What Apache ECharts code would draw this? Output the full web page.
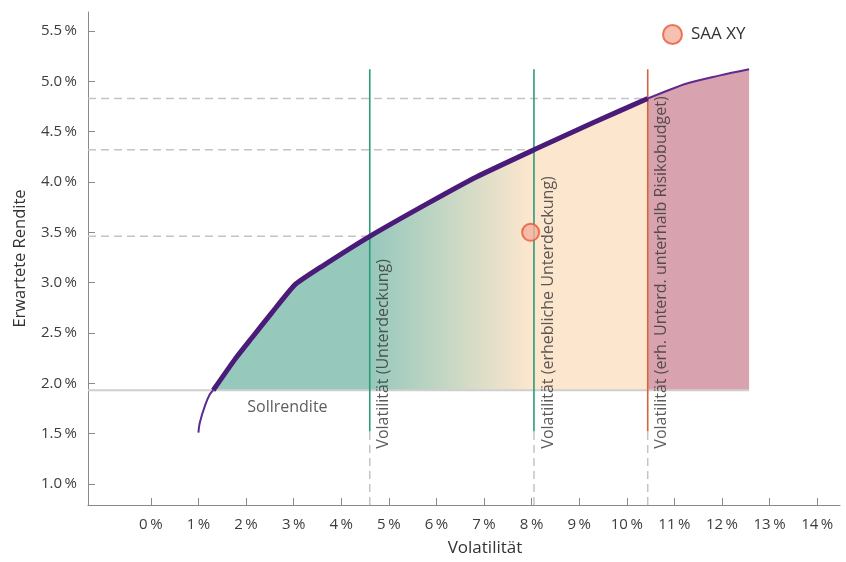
<!DOCTYPE html>
<html>
<head>
<meta charset="utf-8">
<script src="https://cdn.jsdelivr.net/npm/echarts@6/dist/echarts.min.js"></script>
<style>
html,body{margin:0;padding:0;background:#fff;}
#chart{width:846px;height:562px;}
</style>
</head>
<body>
<div id="chart"></div>
<script>
// ---- data ----
const xTicks = [0,1,2,3,4,5,6,7,8,9,10,11,12,13,14];
const yTicks = [1.0,1.5,2.0,2.5,3.0,3.5,4.0,4.5,5.0,5.5];
const sollRendite = 1.93;
const frontierLow = [[1.00,1.51],[1.03,1.61],[1.14,1.78],[1.24,1.89],[1.31,1.93]];
const frontierMain = [[1.31,1.93],[1.77,2.24],[2.12,2.45],[2.54,2.70],[3.03,2.98],[3.59,3.16],[4.60,3.46],[5.79,3.78],[6.84,4.05],[8.05,4.32],[9.29,4.59],[10.44,4.83]];
const frontierHigh = [[10.44,4.83],[11.26,4.98],[11.96,5.06],[12.57,5.12]];
const saaPoint = [[7.98,3.50]];
const volLines = [4.60, 8.05, 10.44];
const volReturns = [3.46, 4.32, 4.83];
const volLabels = ['Volatilität (Unterdeckung)','Volatilität (erhebliche Unterdeckung)','Volatilität (erh. Unterd. unterhalb Risikobudget)'];
const volLineTop = 5.12;
const volLineBottom = 1.52;
const volLabelBase = 1.35;
const sollLabelPos = [[2.87,1.76]];

// ---- style ----
const xMin = -1.32, xMax = 14.48, yMin = 0.79, yMax = 5.69;
const FONT = '"Open Sans", "Noto Sans", sans-serif';
const lineColors = ['#2b9a7b','#2b9a7b','#d2653b'];
const teal = '#96c8bc', peach = '#fde6ce', pink = '#d8a3af';
const TXT = '#333333';

const chart = echarts.init(document.getElementById('chart'));

const series = [];
// fill areas
series.push({
  type:'line', data: frontierMain, symbol:'none', silent:true, z:1, smooth:0.15,
  lineStyle:{width:0, opacity:0},
  areaStyle:{origin: sollRendite, opacity:1,
    color: new echarts.graphic.LinearGradient(0,0,1,0,[
      {offset:0,color:teal},{offset:0.36,color:teal},
      {offset:0.55,color:'#c9d8c4'},
      {offset:0.73,color:peach},{offset:1,color:peach}])}
});
series.push({
  type:'line', data: frontierHigh, symbol:'none', silent:true, z:1, smooth:0.3,
  lineStyle:{width:0, opacity:0},
  areaStyle:{origin: sollRendite, opacity:1, color: pink}
});
// Sollrendite line
series.push({
  type:'line', data:[[xMin,sollRendite],[frontierHigh[frontierHigh.length-1][0],sollRendite]],
  symbol:'none', silent:true, z:2, lineStyle:{color:'#cfcfcf', width:2}
});
// vertical & horizontal reference lines
volLines.forEach((v,i)=>{
  series.push({type:'line', data:[[v,yMin],[v,volLineBottom]], symbol:'none', silent:true, z:2,
    lineStyle:{color:'#c4c4c4', width:1.5, type:[8,5]}});
  series.push({type:'line', data:[[v,volLineBottom],[v,volLineTop]], symbol:'none', silent:true, z:3,
    lineStyle:{color:lineColors[i], width:1.6}});
  series.push({type:'line', data:[[xMin,volReturns[i]],[v,volReturns[i]]], symbol:'none', silent:true, z:2,
    lineStyle:{color:'#c4c4c4', width:1.5, type:[8,5]}});
  series.push({type:'scatter', data:[[v,volLabelBase]], symbolSize:0, silent:true, z:5,
    label:{show:true, formatter: volLabels[i], position:[6,0], rotate:90, align:'left', verticalAlign:'top',
      fontFamily:FONT, fontSize:16, color:TXT}});
});
// frontier curves
series.push({type:'line', data: frontierLow, symbol:'none', silent:true, z:4, smooth:0.3,
  lineStyle:{color:'#5f2a8f', width:2}});
series.push({type:'line', data: frontierMain, symbol:'none', silent:true, z:4, smooth:0.15,
  lineStyle:{color:'#4a1b78', width:5}});
series.push({type:'line', data: frontierHigh, symbol:'none', silent:true, z:4, smooth:0.3,
  lineStyle:{color:'#5f2a8f', width:2}});
// Sollrendite label
series.push({type:'scatter', data: sollLabelPos, symbolSize:0, silent:true, z:5,
  label:{show:true, formatter:'Sollrendite', position:'inside', fontFamily:FONT, fontSize:16, color:TXT}});
// SAA point
series.push({type:'scatter', name:'SAA XY', data: saaPoint, symbol:'circle', symbolSize:17, z:6,
  itemStyle:{color:'#f5b29d', borderColor:'#e9583b', borderWidth:2}});

chart.setOption({
  animation:false,
  backgroundColor:'#fff',
  grid:{left:88, right:6, top:12, bottom:52, containLabel:false},
  legend:{data:['SAA XY'], left:662, top:24, padding:0, icon:'circle', itemWidth:19, itemHeight:19,
    textStyle:{fontFamily:FONT, fontSize:17, color:TXT, padding:[0,0,0,4]}},
  xAxis:{type:'value', min:xMin, max:xMax,
    name:'Volatilität', nameLocation:'middle', nameGap:35,
    nameTextStyle:{fontFamily:FONT, fontSize:17, color:TXT, padding:[0,0,0,42]},
    axisLine:{show:true, onZero:false, lineStyle:{color:'#8a8a8a', width:1}},
    axisTick:{show:true, inside:true, length:7, lineStyle:{color:'#8a8a8a'}, customValues:xTicks},
    axisLabel:{customValues:xTicks, margin:12, fontFamily:FONT, fontSize:15, color:'#3d3d3d',
      formatter:v=>v+'\u2009%'},
    splitLine:{show:false}},
  yAxis:{type:'value', min:yMin, max:yMax,
    name:'Erwartete Rendite', nameLocation:'middle', nameGap:59, nameRotate:90,
    nameTextStyle:{fontFamily:FONT, fontSize:16.5, color:TXT},
    axisLine:{show:true, onZero:false, lineStyle:{color:'#8a8a8a', width:1}},
    axisTick:{show:true, inside:true, length:7, lineStyle:{color:'#8a8a8a'}, customValues:yTicks},
    axisLabel:{customValues:yTicks, margin:11, fontFamily:FONT, fontSize:15, color:'#3d3d3d',
      formatter:v=>v.toFixed(1)+'\u2009%'},
    splitLine:{show:false}},
  series: series
});
</script>
</body>
</html>
